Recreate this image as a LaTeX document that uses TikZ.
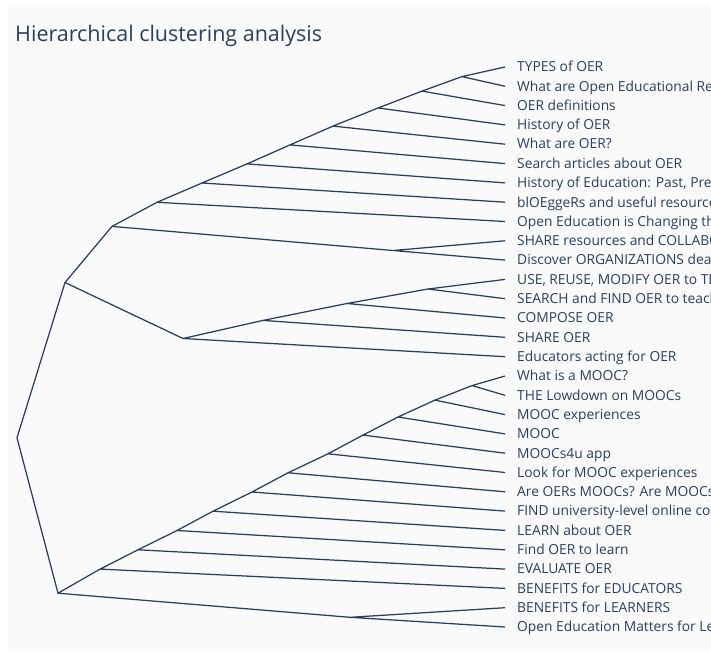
\documentclass[tikz,border=0pt]{standalone}
\usepackage{fontspec}
\setmainfont{Open Sans}
\definecolor{ink}{HTML}{2A3F5F}
\definecolor{bgc}{HTML}{FAFAFB}
\begin{document}
\begin{tikzpicture}[x=1pt,y=-1pt,
  link/.style={draw=ink,line width=1.25pt,line join=round},
  leaf/.style={anchor=base west,inner sep=0pt,text=ink,font=\fontsize{13.8}{16}\selectfont}]
\useasboundingbox (0,0) rectangle (711,655);
\fill[white] (0,0) rectangle (711,655);
\fill[bgc] (8,5) rectangle (711,650);
\node[anchor=base west,inner sep=0pt,text=ink,font=\fontsize{21.5}{24}\selectfont] (title) at (15,41.5) {Hierarchical clustering analysis};
% leaf endpoints
\foreach \i/\y in {1/67,2/86.3,3/105.6,4/124.9,5/144.2,6/163.6,7/182.9,8/202.2,9/221.5,10/240.8,11/260.1,12/279.4,13/298.7,14/318.0,15/337.3,16/356.7,17/376.0,18/395.3,19/414.6,20/433.9,21/453.2,22/472.5,23/491.8,24/511.1,25/530.4,26/549.8,27/569.1,28/588.4,29/607.7,30/627}{
  \coordinate (e\i) at (505,\y);
}
\begin{scope}
\clip (0,0) rectangle (711,655);
\node[leaf] (l1) at (517,71.8) {TYPES of OER};
\node[leaf] (l2) at (517,91.1) {What are Open Educational Resources?};
\node[leaf] (l3) at (517,110.4) {OER definitions};
\node[leaf] (l4) at (517,129.7) {History of OER};
\node[leaf] (l5) at (517,149.0) {What are OER?};
\node[leaf] (l6) at (517,168.4) {Search articles about OER};
\node[leaf] (l7) at (517,187.7) {History of Education: Past, Present and Future};
\node[leaf] (l8) at (517,207.0) {blOEggeRs and useful resources};
\node[leaf] (l9) at (517,226.3) {Open Education is Changing the World};
\node[leaf] (l10) at (517,245.6) {SHARE resources and COLLABORATE};
\node[leaf] (l11) at (517,264.9) {Discover ORGANIZATIONS dealing with OER};
\node[leaf] (l12) at (517,284.2) {USE, REUSE, MODIFY OER to TEACH};
\node[leaf] (l13) at (517,303.5) {SEARCH and FIND OER to teach};
\node[leaf] (l14) at (517,322.8) {COMPOSE OER};
\node[leaf] (l15) at (517,342.1) {SHARE OER};
\node[leaf] (l16) at (517,361.5) {Educators acting for OER};
\node[leaf] (l17) at (517,380.8) {What is a MOOC?};
\node[leaf] (l18) at (517,400.1) {THE Lowdown on MOOCs};
\node[leaf] (l19) at (517,419.4) {MOOC experiences};
\node[leaf] (l20) at (517,438.7) {MOOC};
\node[leaf] (l21) at (517,458.0) {MOOCs4u app};
\node[leaf] (l22) at (517,477.3) {Look for MOOC experiences};
\node[leaf] (l23) at (517,496.6) {Are OERs MOOCs? Are MOOCs OERs?};
\node[leaf] (l24) at (517,515.9) {FIND university-level online courses};
\node[leaf] (l25) at (517,535.2) {LEARN about OER};
\node[leaf] (l26) at (517,554.6) {Find OER to learn};
\node[leaf] (l27) at (517,573.9) {EVALUATE OER};
\node[leaf] (l28) at (517,593.2) {BENEFITS for EDUCATORS};
\node[leaf] (l29) at (517,612.5) {BENEFITS for LEARNERS};
\node[leaf] (l30) at (517,631.8) {Open Education Matters for Learners};
\end{scope}
% internal nodes
\coordinate (a1) at (462,76.6);
\coordinate (a2) at (422,91.1);
\coordinate (a3) at (378,108.0);
\coordinate (a4) at (333,126.1);
\coordinate (a5) at (290,144.9);
\coordinate (a6) at (247,163.9);
\coordinate (a7) at (202,183.0);
\coordinate (a8) at (157,202.3);
\coordinate (d) at (393,250.5);
\coordinate (a9) at (112,226.4);
\coordinate (h) at (428,289.0);
\coordinate (g) at (347,303.5);
\coordinate (f) at (263,320.4);
\coordinate (ee) at (183,338.5);
\coordinate (top) at (65,282.5);
\coordinate (b1) at (472,385.6);
\coordinate (b2) at (435,400.1);
\coordinate (b3) at (398,417.0);
\coordinate (b4) at (363,435.1);
\coordinate (b5) at (328,453.8);
\coordinate (b6) at (288,472.8);
\coordinate (b7) at (252,492.0);
\coordinate (b8) at (213,511.2);
\coordinate (b9) at (177,530.5);
\coordinate (b10) at (138,549.8);
\coordinate (b11) at (100,569.1);
\coordinate (p) at (350,617.3);
\coordinate (bot) at (58,593.2);
\coordinate (root) at (17,437.8);
% links
\draw[link] (e1) -- (a1) -- (e2);
\draw[link] (a1) -- (a2) -- (e3);
\draw[link] (a2) -- (a3) -- (e4);
\draw[link] (a3) -- (a4) -- (e5);
\draw[link] (a4) -- (a5) -- (e6);
\draw[link] (a5) -- (a6) -- (e7);
\draw[link] (a6) -- (a7) -- (e8);
\draw[link] (a7) -- (a8) -- (e9);
\draw[link] (e10) -- (d) -- (e11);
\draw[link] (a8) -- (a9) -- (d);
\draw[link] (e12) -- (h) -- (e13);
\draw[link] (h) -- (g) -- (e14);
\draw[link] (g) -- (f) -- (e15);
\draw[link] (f) -- (ee) -- (e16);
\draw[link] (a9) -- (top) -- (ee);
\draw[link] (e17) -- (b1) -- (e18);
\draw[link] (b1) -- (b2) -- (e19);
\draw[link] (b2) -- (b3) -- (e20);
\draw[link] (b3) -- (b4) -- (e21);
\draw[link] (b4) -- (b5) -- (e22);
\draw[link] (b5) -- (b6) -- (e23);
\draw[link] (b6) -- (b7) -- (e24);
\draw[link] (b7) -- (b8) -- (e25);
\draw[link] (b8) -- (b9) -- (e26);
\draw[link] (b9) -- (b10) -- (e27);
\draw[link] (b10) -- (b11) -- (e28);
\draw[link] (e29) -- (p) -- (e30);
\draw[link] (b11) -- (bot) -- (p);
\draw[link] (top) -- (root) -- (bot);
\end{tikzpicture}
\end{document}
